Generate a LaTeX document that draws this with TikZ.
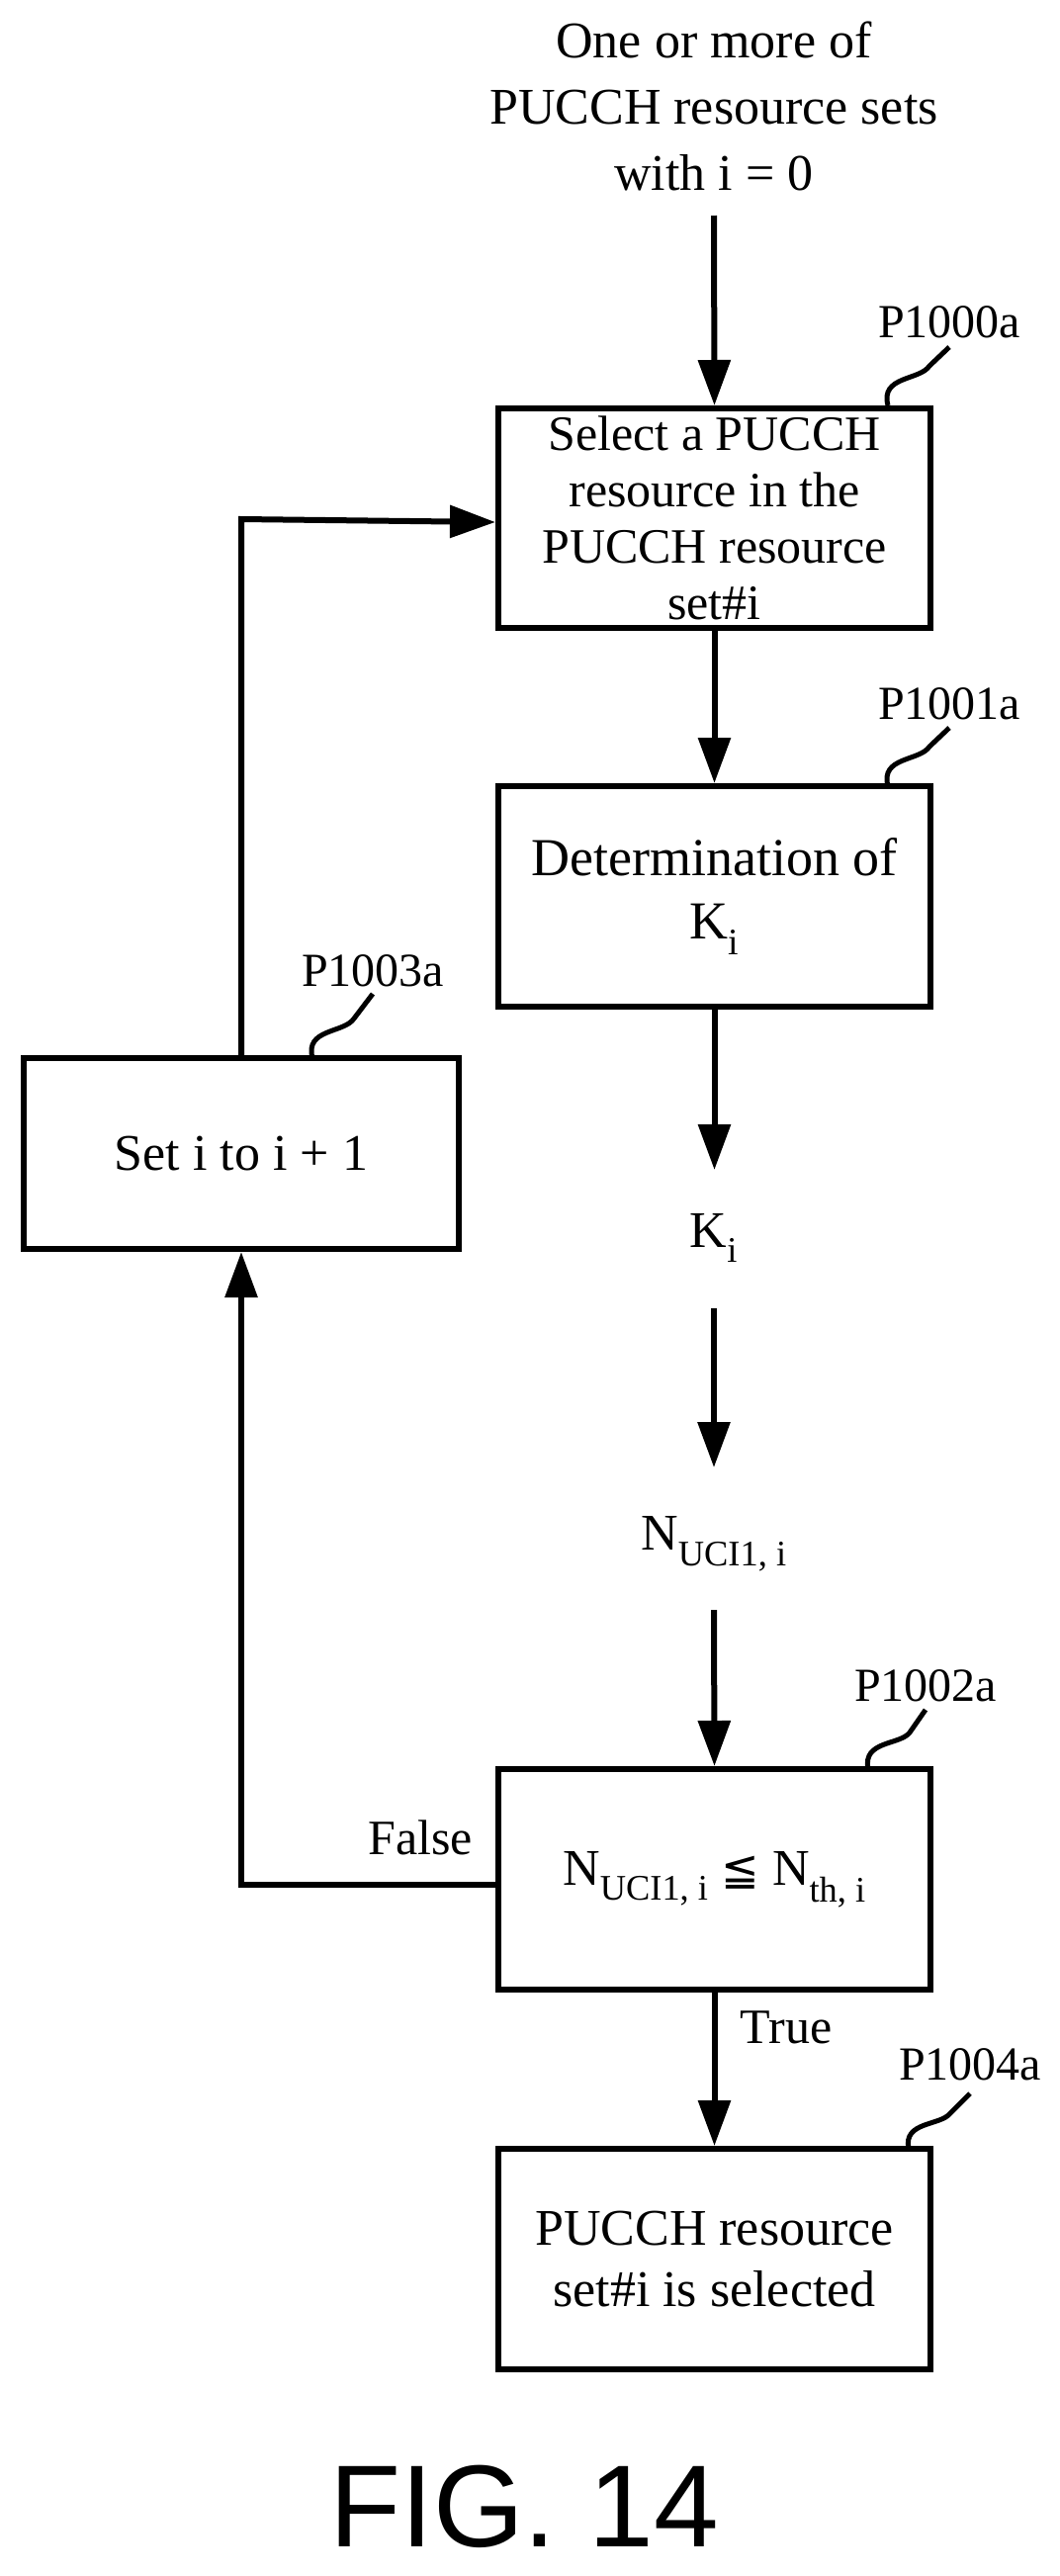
\documentclass[tikz,border=0pt]{standalone}
\usepackage{fontspec}
\setmainfont{Liberation Serif}
\newfontfamily\dvs{DejaVu Sans}
\newfontfamily\lsans{Liberation Sans}
\usetikzlibrary{arrows.meta}
\begin{document}
\begin{tikzpicture}[x=1pt,y=-1pt,
  box/.style={draw,line width=6pt,minimum width=437pt,align=center,inner sep=0pt,font=\fontsize{50}{57}\selectfont},
  flow/.style={line width=6pt,-{Triangle[width=32pt,length=46pt]}},
  lbl/.style={font=\fontsize{48}{56}\selectfont,inner sep=0pt},
  squig/.style={line width=5pt},
  txt/.style={font=\fontsize{52}{67}\selectfont,align=center,inner sep=0pt}]
\useasboundingbox (0,0) rectangle (1071,2605);
\node[txt] (top) at (722,107) {One or more of\\PUCCH resource sets\\with i = 0};
\node[box,minimum height=222pt] (b1) at (722.5,524) {Select a PUCCH\\resource in the\\PUCCH resource\\set\#i};
\node[box,minimum height=223pt,font=\fontsize{54}{64}\selectfont] (b2) at (722.5,906.5) {Determination of\\K\textsubscript{i}};
\node[box,minimum width=440pt,minimum height=193pt,font=\fontsize{52}{60}\selectfont] (b3) at (244,1166.5) {Set i to i + 1};
\node[lbl,font=\fontsize{52}{60}\selectfont] (k) at (722,1252) {K\textsubscript{i}};
\node[lbl,font=\fontsize{52}{60}\selectfont] (n) at (722,1561) {N\textsubscript{UCI1, i}};
\node[box,minimum height=223pt,font=\fontsize{52}{60}\selectfont] (b4) at (722.5,1900.5) {N\textsubscript{UCI1, i} {\dvs\fontsize{46}{50}\selectfont ≦} N\textsubscript{th, i}};
\node[box,minimum height=223pt,font=\fontsize{52}{62}\selectfont] (b5) at (722.5,2284.5) {PUCCH resource\\set\#i is selected};
\node[lbl] (p0) at (960,326) {P1000a};
\node[lbl] (p1) at (960,712) {P1001a};
\node[lbl] (p3) at (377,982) {P1003a};
\node[lbl] (p2) at (936,1705) {P1002a};
\node[lbl] (p4) at (981,2088) {P1004a};
\node[lbl,font=\fontsize{50}{58}\selectfont] (fl) at (425,1858) {False};
\node[lbl,font=\fontsize{50}{58}\selectfont] (tr) at (795,2050) {True};
\node[inner sep=0pt,font=\lsans\fontsize{118}{128}\selectfont] (fig) at (530,2535) {FIG. 14};
\coordinate (c0) at (722,218);
\coordinate (c1) at (722,1323);
\coordinate (c2) at (722,1628);
\draw[flow] (c0) -- (b1.north);
\draw[flow] (b1.south) -- (b2.north);
\draw[flow] (b2.south) -- ++(0,162);
\draw[flow] (c1) -- ++(0,161);
\draw[flow] (c2) -- (b4.north);
\draw[flow] (b4.south) -- (b5.north);
\draw[flow] (b3.north) -- ++(0,-542) -- (b1.west |- 0,528);
\draw[flow] (b4.west |- 0,1906) -| (b3.south);
\draw[squig] (898,410) .. controls (890,380) and (930,385) .. (940,370) -- (960,351);
\draw[squig] (898,795) .. controls (890,765) and (930,770) .. (940,755) -- (960,736);
\draw[squig] (316,1070) .. controls (308,1040) and (348,1045) .. (358,1030) -- (377,1005);
\draw[squig] (878,1789) .. controls (872,1760) and (910,1765) .. (920,1752) -- (936,1729);
\draw[squig] (919,2173) .. controls (913,2145) and (951,2150) .. (961,2137) -- (981,2117);
\end{tikzpicture}
\end{document}
